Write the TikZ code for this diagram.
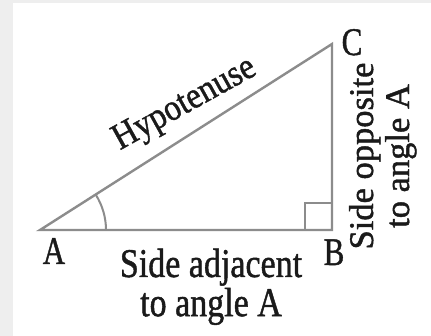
\documentclass[tikz,border=0pt]{standalone}
\usepackage{fontspec}
\setmainfont{Liberation Serif}[FakeBold=1.2]
\usepackage{graphicx}
\usetikzlibrary{calc}
\definecolor{linegray}{HTML}{8C8C8C}
\definecolor{txt}{HTML}{1A1A1A}
\definecolor{bggray}{HTML}{EEEEEE}
\begin{document}
\begin{tikzpicture}[x=1pt,y=-1pt,
  side/.style={draw=linegray,line width=2.4pt,line join=miter},
  anglemark/.style={draw=linegray,line width=2pt},
  lbl/.style={text=txt,inner sep=0pt,anchor=base},
]
\useasboundingbox (0,0) rectangle (431,336);
\fill[bggray] (0,0) rectangle (431,336);
\fill[white] (13,3) rectangle (431,336);
% vertices
\coordinate (A) at (40,230);
\coordinate (B) at (332,230);
\coordinate (C) at (332,44);
% triangle
\draw[side] (A) -- (B) -- (C) -- cycle;
% right angle mark
\draw[anglemark] ($(B)+(-27,0)$) -- ++(0,-27) -- ++(27,0);
% angle arc at A
\draw[anglemark] ($(A)+(66,0)$) arc[start angle=0,end angle=-32.5,radius=66];
% vertex labels
\node[lbl] (lA) at (54,264) {\fontsize{31}{31}\selectfont\scalebox{1}[1.26]{A}};
\node[lbl] (lB) at (334,265) {\fontsize{31}{31}\selectfont\scalebox{1}[1.26]{B}};
\node[lbl] (lC) at (352,55) {\fontsize{31}{31}\selectfont\scalebox{1}[1.26]{C}};
% side labels
\node[lbl,rotate=29] (hyp) at (189,112) {\fontsize{33}{33}\selectfont\scalebox{1}[1.12]{Hypotenuse}};
\node[lbl] (adj) at (211,277) {\fontsize{34}{30}\selectfont\scalebox{1}[1.2]{\begin{tabular}[t]{@{}c@{}}Side adjacent\\to angle A\end{tabular}}};
\node[lbl,rotate=90] (opp1) at (373,156) {\fontsize{34.5}{34.5}\selectfont Side opposite};
\node[lbl,rotate=90] (opp2) at (409,156) {\fontsize{34.5}{34.5}\selectfont to angle A};
\end{tikzpicture}
\end{document}
